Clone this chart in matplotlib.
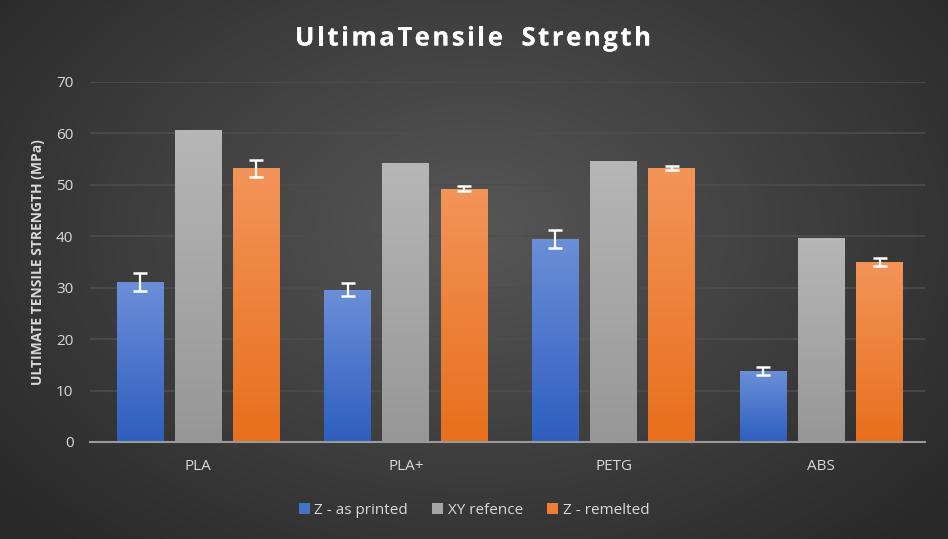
import numpy as np
import matplotlib
matplotlib.use('Agg')
import matplotlib.pyplot as plt
import matplotlib.patheffects as pe
from matplotlib.colors import LinearSegmentedColormap

plt.rcParams['font.family'] = ['Open Sans', 'DejaVu Sans']

materials = ['PLA', 'PLA+', 'PETG', 'ABS']
series = ['Z - as printed', 'XY refence', 'Z - remelted']
z_printed = [31.1, 29.6, 39.5, 13.8]
z_printed_err = [1.7, 1.3, 1.7, 0.8]
xy_ref = [60.7, 54.3, 54.7, 39.7]
z_remelted = [53.2, 49.2, 53.3, 35.0]
z_remelted_err = [1.6, 0.5, 0.4, 0.7]
title = 'UltimaTensile Strength'

values = [z_printed, xy_ref, z_remelted]
errors = [z_printed_err, None, z_remelted_err]
# (top colour, bottom colour) of each bar gradient
grads = [('#6b8fd8', '#2e5ec0'), ('#b6b6b6', '#979797'), ('#f39459', '#e86f1c')]
flat = ['#4472c4', '#a5a5a5', '#ed7d31']

fig = plt.figure(figsize=(9.48, 5.39), dpi=100)

# radial background
bg = fig.add_axes([0, 0, 1, 1], zorder=-10)
yy, xx = np.mgrid[0:539, 0:948]
r = np.sqrt(((xx - 474) / 620.0) ** 2 + ((yy - 230) / 420.0) ** 2)
r = np.clip(r, 0, 1)
c_in = np.array([0.34, 0.34, 0.34])
c_out = np.array([0.16, 0.16, 0.16])
img = c_in[None, None, :] * (1 - r[..., None]) + c_out[None, None, :] * r[..., None]
bg.imshow(img, aspect='auto', extent=[0, 1, 0, 1])
bg.axis('off')

ax = fig.add_axes([0.095, 0.18, 0.881, 0.668])
ax.set_facecolor('none')

x = np.arange(len(materials))
w = 0.225
gap = 0.055
offsets = [-(w + gap), 0, w + gap]

handles = []
for i in range(3):
    bars = ax.bar(x + offsets[i], values[i], w, color=flat[i], zorder=3, label=series[i])
    handles.append(bars)
    cmap = LinearSegmentedColormap.from_list('g%d' % i, [grads[i][1], grads[i][0]])
    for b in bars:
        bx, by = b.get_x(), b.get_y()
        bw, bh = b.get_width(), b.get_height()
        im = ax.imshow(np.linspace(0, 1, 100).reshape(-1, 1), cmap=cmap, origin='lower',
                       extent=[bx, bx + bw, by, by + bh], aspect='auto', zorder=4)
        im.set_clip_path(b)
    if errors[i] is not None:
        ax.errorbar(x + offsets[i], values[i], yerr=errors[i], fmt='none', ecolor='white',
                    elinewidth=1.6, capsize=5, capthick=1.8, zorder=5)

ax.set_xlim(-0.52, 3.5)
ax.set_ylim(0, 70)
ax.set_yticks(range(0, 71, 10))
ax.set_xticks(x)
ax.set_xticklabels(materials)
ax.grid(axis='y', color='#4d4d4d', linewidth=1.2, zorder=0)
for s in ['top', 'right', 'left']:
    ax.spines[s].set_visible(False)
ax.spines['bottom'].set_color('#9a9a9a')
ax.spines['bottom'].set_linewidth(1.5)
ax.spines['bottom'].set_zorder(6)
ax.tick_params(axis='both', length=0, colors='#d9d9d9', labelsize=11)
ax.tick_params(axis='x', pad=12)
ax.tick_params(axis='y', pad=12)
ax.set_ylabel('ULTIMATE TENSILE STRENGTH (MPa)', color='#d9d9d9', fontsize=10,
              fontweight='bold', labelpad=8)

# title with letter spacing
fig.canvas.draw()
rend = fig.canvas.get_renderer()
track = 2.5
tsize = 18.5
widths = []
for ch in title:
    t = fig.text(0, 0, ch if ch != ' ' else 'n', fontsize=tsize, fontweight='bold')
    wpx = t.get_window_extent(rend).width
    if ch == ' ':
        wpx *= 0.8
    widths.append(wpx)
    t.remove()
total = sum(widths) + track * (len(title) - 1)
px = 473 - total / 2
for ch, wpx in zip(title, widths):
    if ch != ' ':
        fig.text(px / 948, 1 - 38 / 539, ch, ha='left', va='center', color='white',
                 fontsize=tsize, fontweight='bold',
                 path_effects=[pe.withSimplePatchShadow(offset=(1, -1), alpha=0.4), pe.Normal()])
    px += wpx + track

fig.legend(handles=handles, labels=series, loc='center', bbox_to_anchor=(0.5, 1 - 510 / 539),
           ncol=3, frameon=False, fontsize=11, labelcolor='#d9d9d9', handlelength=0.7,
           handleheight=0.7, handletextpad=0.3, columnspacing=1.6)

fig.savefig('out.png', dpi=100)
